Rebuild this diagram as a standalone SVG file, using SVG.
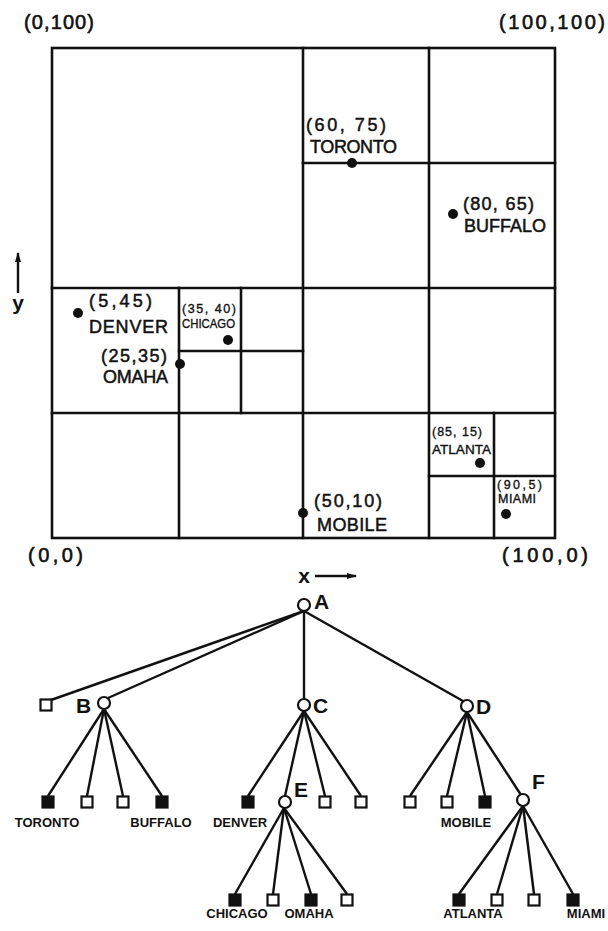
<svg xmlns="http://www.w3.org/2000/svg" width="608" height="931" viewBox="0 0 608 931">
<defs>
<style>
.grid{stroke:#111;stroke-width:2.6;fill:none;stroke-linecap:square}
.dot{fill:#111}
.lbl{font-family:"Liberation Sans",Arial,sans-serif;fill:#111;font-size:18px;stroke:#111;stroke-width:0.5}
.sm{font-family:"Liberation Sans",Arial,sans-serif;fill:#111;font-size:12.5px;stroke:#111;stroke-width:0.35}
.cor{font-family:"Liberation Sans",Arial,sans-serif;fill:#111;font-size:20px;stroke:#111;stroke-width:0.6}
.edge{stroke:#111;stroke-width:2.4;fill:none}
.inner{fill:#fff;stroke:#111;stroke-width:2.2}
.leafE{fill:#fff;stroke:#111;stroke-width:2.2}
.leafF{fill:#111;stroke:#111;stroke-width:2.2}
.tl{font-family:"Liberation Sans",Arial,sans-serif;font-weight:bold;fill:#111;font-size:13px;text-anchor:middle}
.nl{font-family:"Liberation Sans",Arial,sans-serif;font-weight:bold;fill:#111;font-size:21px}
</style>
<marker id="ah" viewBox="0 0 10 6" refX="9" refY="3" markerWidth="10" markerHeight="6" markerUnits="userSpaceOnUse" orient="auto">
<path d="M0,0 L10,3 L0,6 z" fill="#111"/>
</marker>
</defs>
<rect width="608" height="931" fill="#fff"/>

<g id="map">
<rect class="grid" x="52" y="48" width="503" height="490"/>
<line class="grid" x1="303" y1="48" x2="303" y2="538"/>
<line class="grid" x1="429" y1="48" x2="429" y2="538"/>
<line class="grid" x1="303" y1="163" x2="555" y2="163"/>
<line class="grid" x1="52" y1="288" x2="555" y2="288"/>
<line class="grid" x1="52" y1="413" x2="555" y2="413"/>
<line class="grid" x1="179" y1="288" x2="179" y2="538"/>
<line class="grid" x1="241" y1="288" x2="241" y2="413"/>
<line class="grid" x1="179" y1="351" x2="303" y2="351"/>
<line class="grid" x1="494" y1="413" x2="494" y2="538"/>
<line class="grid" x1="429" y1="476" x2="555" y2="476"/>
</g>

<g id="corners">
<text class="cor" x="24" y="29" textLength="70" lengthAdjust="spacing">(0,100)</text>
<text class="cor" x="499" y="29" textLength="106" lengthAdjust="spacing">(100,100)</text>
<text class="cor" x="28" y="562" textLength="55" lengthAdjust="spacing">(0,0)</text>
<text class="cor" x="502" y="562" textLength="86" lengthAdjust="spacing">(100,0)</text>
</g>

<g id="axes">
<line class="edge" x1="18" y1="293" x2="18" y2="253" marker-end="url(#ah)" stroke-width="2"/>
<text class="nl" x="18" y="310" text-anchor="middle" font-size="18">y</text>
<text class="nl" x="304" y="583" text-anchor="middle" font-size="17">x</text>
<line class="edge" x1="315" y1="576" x2="356" y2="576" marker-end="url(#ah)" stroke-width="2"/>
</g>

<g id="toronto">
<circle class="dot" cx="352" cy="163" r="5"/>
<text class="lbl" x="306" y="131" textLength="80" lengthAdjust="spacing">(60, 75)</text>
<text class="lbl" x="310" y="153" textLength="87" lengthAdjust="spacing">TORONTO</text>
</g>
<g id="buffalo">
<circle class="dot" cx="453" cy="214" r="5"/>
<text class="lbl" x="463" y="210" textLength="71" lengthAdjust="spacing">(80, 65)</text>
<text class="lbl" x="464" y="232" textLength="82" lengthAdjust="spacing">BUFFALO</text>
</g>
<g id="denver">
<circle class="dot" cx="78" cy="313" r="5"/>
<text class="lbl" x="89" y="307" textLength="63" lengthAdjust="spacing">(5,45)</text>
<text class="lbl" x="89" y="333" textLength="79" lengthAdjust="spacing">DENVER</text>
</g>
<g id="chicago">
<circle class="dot" cx="228" cy="340" r="5"/>
<text class="sm" x="182" y="313" textLength="54" lengthAdjust="spacing">(35, 40)</text>
<text class="sm" x="182" y="328" textLength="53" lengthAdjust="spacingAndGlyphs" font-size="12">CHICAGO</text>
</g>
<g id="omaha">
<circle class="dot" cx="180" cy="364" r="5"/>
<text class="lbl" x="101" y="362" textLength="66" lengthAdjust="spacing">(25,35)</text>
<text class="lbl" x="103" y="383" textLength="65" lengthAdjust="spacing">OMAHA</text>
</g>
<g id="atlanta">
<circle class="dot" cx="480" cy="463" r="5"/>
<text class="sm" x="432" y="436" textLength="50" lengthAdjust="spacing">(85, 15)</text>
<text class="sm" x="432" y="454" textLength="59" lengthAdjust="spacingAndGlyphs" font-size="12">ATLANTA</text>
</g>
<g id="miami">
<circle class="dot" cx="506" cy="514" r="5"/>
<text class="sm" x="497" y="489" textLength="45" lengthAdjust="spacing">(90,5)</text>
<text class="sm" x="498" y="503" textLength="38" lengthAdjust="spacing" font-size="12">MIAMI</text>
</g>
<g id="mobile">
<circle class="dot" cx="303" cy="513" r="5"/>
<text class="lbl" x="314" y="507" textLength="68" lengthAdjust="spacing">(50,10)</text>
<text class="lbl" x="317" y="531" textLength="70" lengthAdjust="spacing">MOBILE</text>
</g>

<g id="connectors">
<line class="edge" x1="304" y1="611" x2="51" y2="700"/>
<line class="edge" x1="304" y1="611" x2="108" y2="698"/>
<line class="edge" x1="304" y1="611" x2="304" y2="699"/>
<line class="edge" x1="304" y1="611" x2="463" y2="701"/>
<line class="edge" x1="104" y1="709" x2="48" y2="796"/>
<line class="edge" x1="104" y1="709" x2="87" y2="796"/>
<line class="edge" x1="104" y1="709" x2="123" y2="796"/>
<line class="edge" x1="104" y1="709" x2="162" y2="796"/>
<line class="edge" x1="304" y1="711" x2="248" y2="796"/>
<line class="edge" x1="304" y1="711" x2="285" y2="796"/>
<line class="edge" x1="304" y1="711" x2="325" y2="796"/>
<line class="edge" x1="304" y1="711" x2="361" y2="796"/>
<line class="edge" x1="467" y1="712" x2="410" y2="796"/>
<line class="edge" x1="467" y1="712" x2="447" y2="796"/>
<line class="edge" x1="467" y1="712" x2="485" y2="796"/>
<line class="edge" x1="467" y1="712" x2="521" y2="795"/>
<line class="edge" x1="284" y1="808" x2="235" y2="894"/>
<line class="edge" x1="284" y1="808" x2="273" y2="894"/>
<line class="edge" x1="284" y1="808" x2="311" y2="894"/>
<line class="edge" x1="284" y1="808" x2="347" y2="894"/>
<line class="edge" x1="523" y1="806" x2="459" y2="894"/>
<line class="edge" x1="523" y1="806" x2="497" y2="894"/>
<line class="edge" x1="523" y1="806" x2="534" y2="894"/>
<line class="edge" x1="523" y1="806" x2="573" y2="894"/>
</g>

<g id="nodeA"><circle class="inner" cx="304" cy="605" r="6"/><text class="nl" x="314" y="609">A</text></g>
<g id="leafA1"><rect class="leafE" x="40.5" y="699.5" width="11" height="11"/></g>
<g id="nodeB"><circle class="inner" cx="104" cy="703" r="6"/><text class="nl" x="76" y="713">B</text></g>
<g id="nodeC"><circle class="inner" cx="304" cy="705" r="6"/><text class="nl" x="313" y="713">C</text></g>
<g id="nodeD"><circle class="inner" cx="467" cy="706" r="6"/><text class="nl" x="476" y="714">D</text></g>

<g id="leafB1"><rect class="leafF" x="42.5" y="796.5" width="11" height="11"/><text class="tl" x="47" y="827">TORONTO</text></g>
<g id="leafB2"><rect class="leafE" x="81.5" y="796.5" width="11" height="11"/></g>
<g id="leafB3"><rect class="leafE" x="117.5" y="796.5" width="11" height="11"/></g>
<g id="leafB4"><rect class="leafF" x="156.5" y="796.5" width="11" height="11"/><text class="tl" x="161" y="827">BUFFALO</text></g>

<g id="leafC1"><rect class="leafF" x="242.5" y="796.5" width="11" height="11"/><text class="tl" x="240" y="827">DENVER</text></g>
<g id="nodeE"><circle class="inner" cx="285" cy="802" r="6"/><text class="nl" x="294" y="797">E</text></g>
<g id="leafC3"><rect class="leafE" x="319.5" y="796.5" width="11" height="11"/></g>
<g id="leafC4"><rect class="leafE" x="355.5" y="796.5" width="11" height="11"/></g>

<g id="leafD1"><rect class="leafE" x="404.5" y="796.5" width="11" height="11"/></g>
<g id="leafD2"><rect class="leafE" x="441.5" y="796.5" width="11" height="11"/></g>
<g id="leafD3"><rect class="leafF" x="479.5" y="796.5" width="11" height="11"/><text class="tl" x="466" y="827">MOBILE</text></g>
<g id="nodeF"><circle class="inner" cx="523" cy="800" r="6"/><text class="nl" x="532" y="789">F</text></g>

<g id="leafE1"><rect class="leafF" x="229.5" y="894.5" width="11" height="11"/><text class="tl" x="237" y="918">CHICAGO</text></g>
<g id="leafE2"><rect class="leafE" x="267.5" y="894.5" width="11" height="11"/></g>
<g id="leafE3"><rect class="leafF" x="305.5" y="894.5" width="11" height="11"/><text class="tl" x="309" y="918">OMAHA</text></g>
<g id="leafE4"><rect class="leafE" x="341.5" y="894.5" width="11" height="11"/></g>

<g id="leafF1"><rect class="leafF" x="453.5" y="894.5" width="11" height="11"/><text class="tl" x="473" y="918">ATLANTA</text></g>
<g id="leafF2"><rect class="leafE" x="491.5" y="894.5" width="11" height="11"/></g>
<g id="leafF3"><rect class="leafE" x="528.5" y="894.5" width="11" height="11"/></g>
<g id="leafF4"><rect class="leafF" x="567.5" y="894.5" width="11" height="11"/><text class="tl" x="586" y="918">MIAMI</text></g>
</svg>
